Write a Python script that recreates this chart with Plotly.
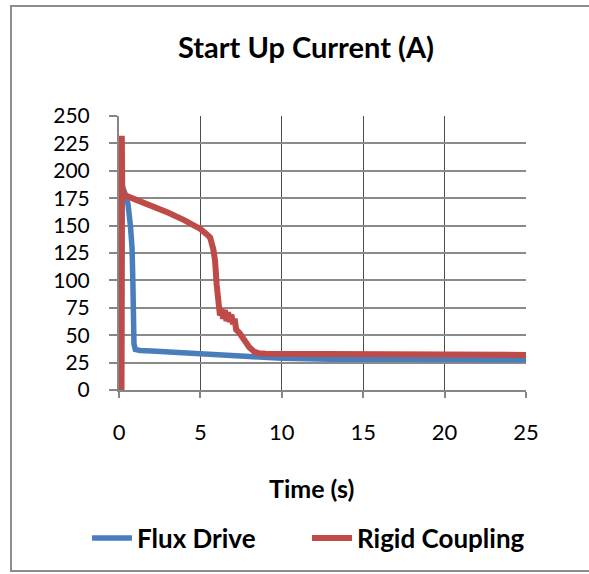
import plotly.graph_objects as go

# ---- data ----
flux_t = [0.15, 0.2, 0.35, 0.55, 0.7, 0.8, 0.85, 0.88, 0.92, 1.0, 1.3, 2.0, 4.0, 6.0, 8.0, 10.0, 13.0, 18.0, 25.0]
flux_i = [0, 186, 180, 170, 150, 130, 100, 60, 42, 37, 36, 35.5, 33.5, 32, 30.5, 29, 28, 28, 27.5]

rigid_t = [0.15, 0.17, 0.2, 0.3, 1.0, 2.0, 3.0, 4.0, 5.0, 5.4, 5.6, 5.8, 5.9, 6.0, 6.1, 6.15, 6.2, 6.3, 6.4,
           6.5, 6.6, 6.7, 6.8, 6.9, 7.0, 7.1, 7.2, 7.4, 7.6, 7.8, 8.0, 8.3, 8.6, 9.0, 10.0, 12.0, 15.0, 20.0, 25.0]
rigid_i = [0, 232, 184, 178, 174, 168.5, 162, 155, 147, 142, 139, 128, 118, 96, 80, 73, 68, 74, 65,
           73, 63, 71, 62, 69, 60, 65, 55, 52, 47, 43, 39, 35, 33.5, 33, 33, 33, 32.5, 32, 32]

x_ticks = [0, 5, 10, 15, 20, 25]
y_ticks = [0, 25, 50, 75, 100, 125, 150, 175, 200, 225, 250]

FONT = "Lato"
BLUE = "#4A7EBB"
RED = "#BE4B48"

fig = go.Figure()
fig.add_trace(go.Scatter(x=flux_t, y=flux_i, mode="lines", name="<b>Flux Drive</b>",
                         line=dict(color=BLUE, width=5.5)))
fig.add_trace(go.Scatter(x=rigid_t, y=rigid_i, mode="lines", name="<b>Rigid Coupling</b>",
                         line=dict(color=RED, width=6)))

W, H = 589, 574
L, R, T, B = 119, 526, 116, 390

fig.update_layout(
    width=W, height=H,
    margin=dict(l=L, r=W - R, t=T, b=H - B),
    paper_bgcolor="white", plot_bgcolor="white",
    font=dict(family=FONT, color="black"),
    title=dict(text="<b>Start Up Current (A)</b>", font=dict(size=29, family=FONT, color="black"),
               xref="container", yref="container", x=306 / W, y=1 - 48 / H,
               xanchor="center", yanchor="middle"),
    showlegend=True,
    legend=dict(orientation="h", x=(87 - L) / (R - L), y=(B - 538) / (B - T),
                xanchor="left", yanchor="middle",
                font=dict(size=26, family=FONT, color="black"),
                itemwidth=40, entrywidth=165, bgcolor="rgba(0,0,0,0)"),
    xaxis=dict(range=[0, 25], tickvals=x_ticks, ticktext=[str(v) for v in x_ticks],
               showgrid=True, gridcolor="#4d4d4d", gridwidth=1,
               showline=True, linecolor="#868686", linewidth=2,
               ticks="outside", ticklen=6, tickcolor="#868686", tickwidth=2,
               tickfont=dict(size=22, family=FONT, color="black"),
               ticklabelstandoff=16, zeroline=False, fixedrange=True),
    yaxis=dict(range=[0, 250], tickvals=y_ticks, ticktext=[str(v) for v in y_ticks],
               showgrid=True, gridcolor="#8a8a8a", gridwidth=2,
               showline=True, linecolor="#868686", linewidth=2,
               ticks="outside", ticklen=8, tickcolor="#868686", tickwidth=2,
               tickfont=dict(size=21, family=FONT, color="black"),
               ticklabelstandoff=15, zeroline=False, fixedrange=True),
    annotations=[dict(text="<b>Time (s)</b>", xref="paper", yref="paper",
                      x=(311 - L) / (R - L), y=(B - 488) / (B - T),
                      xanchor="center", yanchor="middle", showarrow=False,
                      font=dict(size=25, family=FONT, color="black"))],
    shapes=[dict(type="rect", xref="paper", yref="paper",
                 x0=(11 - L) / (R - L), x1=(600 - L) / (R - L),
                 y0=(B - 571) / (B - T), y1=(B - 6) / (B - T),
                 line=dict(color="#8c8c8c", width=2), fillcolor="rgba(0,0,0,0)", layer="below")],
)

fig.write_html("out.html")
